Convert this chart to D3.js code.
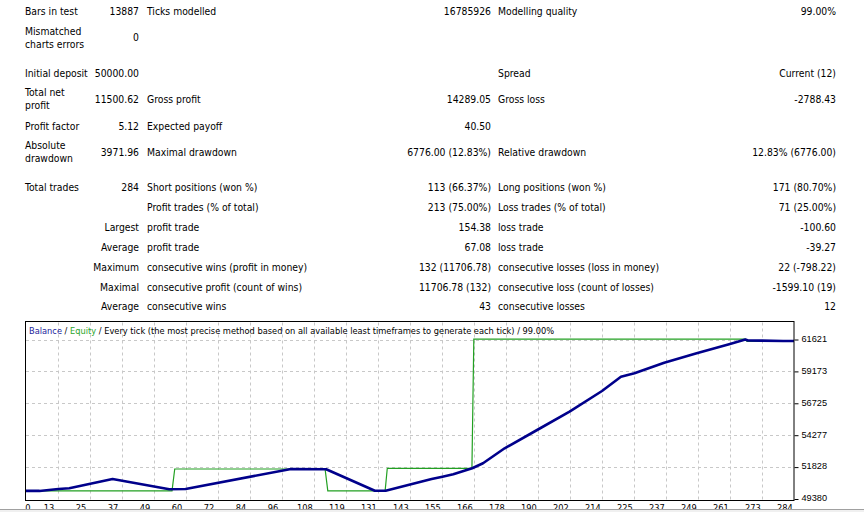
<!DOCTYPE html>
<html><head><meta charset="utf-8">
<script src="https://cdn.jsdelivr.net/npm/d3@7"></script>
<style>
body{margin:0;background:#fff;}
svg{display:block;font-family:Tahoma,"DejaVu Sans Condensed","Liberation Sans",Arial,sans-serif;}
</style>
</head><body><svg id="c" width="864" height="512"></svg>
<script>
// ---------- DATA ----------
const col1Labels = ["Bars in test","Mismatched\ncharts errors","Initial deposit","Total net\nprofit","Profit factor","Absolute\ndrawdown","Total trades","","Largest","Average","Maximum","Maximal","Average"];
const col1Values = ["13887","0","50000.00","11500.62","5.12","3971.96","284","","","","","",""];
const col2Labels = ["Ticks modelled","","","Gross profit","Expected payoff","Maximal drawdown","Short positions (won %)","Profit trades (% of total)","profit trade","profit trade","consecutive wins (profit in money)","consecutive profit (count of wins)","consecutive wins"];
const col2Values = ["16785926","","","14289.05","40.50","6776.00 (12.83%)","113 (66.37%)","213 (75.00%)","154.38","67.08","132 (11706.78)","11706.78 (132)","43"];
const col3Labels = ["Modelling quality","","Spread","Gross loss","","Relative drawdown","Long positions (won %)","Loss trades (% of total)","loss trade","loss trade","consecutive losses (loss in money)","consecutive loss (count of losses)","consecutive losses"];
const col3Values = ["99.00%","","Current (12)","-2788.43","","12.83% (6776.00)","171 (80.70%)","71 (25.00%)","-100.60","-39.27","22 (-798.22)","-1599.10 (19)","12"];

const balanceTrades = [0,5,12,16,32,53,59,98,111,129,133,150,154,158,165,169,177,189,201,213,220,225,236,248,260,266,267,272,280,284];
const balanceValues = [50000,50000,50147,50200,50915,50124,50147,51682,51660,50017,50017,50915,51094,51276,51736,52120,53271,54676,56080,57669,58767,59027,59841,60563,61253,61621,61540,61537,61506,61500.62];

const equityTrades = [0,54,55,110.6,111.6,132.8,133.6,164.9,165.6,266,266.6,284];
const equityValues = [50000,50000,51682,51682,50000,50000,51736,51736,61650,61650,61470,61470];

const xTickLabels = ["0","13","25","37","49","60","72","84","96","108","119","131","143","155","166","178","190","202","214","225","237","249","261","273","284"];
const yTickValues = [49380,51828,54277,56725,59173,61621];

const titleParts = [["Balance","balance"],[" / ","text"],["Equity","equity"],[" / Every tick (the most precise method based on all available least timeframes to generate each tick) / 99.00%","text"]];

// ---------- LAYOUT ----------
const svg = d3.select("#c");
const rowY = [11,37.5,73,99,126,152,187,207,227,247,267,287,306.5];
const subRowRightAligned = i => i >= 8;
const C1L = 25, C1R = 139, C2L = 147, C2R = 491, C3L = 498, C3R = 836;
const fs = 10.3;

const tbl = svg.append("g").attr("font-size", fs).attr("fill", "#000");
function addText(x, y, str, anchor) {
  if (!str) return;
  const lines = str.split("\n");
  const t = tbl.append("text").attr("x", x).attr("text-anchor", anchor);
  lines.forEach((ln, k) => {
    const yy = y + (k - (lines.length - 1) / 2) * 13;
    t.append("tspan").attr("x", x).attr("y", yy).attr("dy", "0.35em").text(ln);
  });
}
rowY.forEach((y, i) => {
  if (subRowRightAligned(i)) addText(C1R, y, col1Labels[i], "end");
  else addText(C1L, y, col1Labels[i], "start");
  addText(C1R, y, col1Values[i], "end");
  addText(C2L, y, col2Labels[i], "start");
  addText(C2R, y, col2Values[i], "end");
  addText(C3L, y, col3Labels[i], "start");
  addText(C3R, y, col3Values[i], "end");
});

// ---------- CHART ----------
const L = 26, R = 794, T = 321.5, B = 500.5;
const x = d3.scaleLinear().domain([0, 284]).range([L, R]);
const y = d3.scaleLinear().domain([49380, 61621]).range([499, 339.5]);
const gridX = d3.scaleLinear().domain([0, 24]).range([L, R]);
const labelX = d3.scalePoint().domain(xTickLabels).range([17, 785]);

const chart = svg.append("g");
chart.append("rect").attr("x", 25.5).attr("y", T).attr("width", R - 25.5).attr("height", B - T)
  .attr("fill", "#fff");

// grid
chart.append("g").selectAll("line").data(d3.range(1, 24)).join("line")
  .attr("x1", d => Math.round(gridX(d)) + 0.5).attr("x2", d => Math.round(gridX(d)) + 0.5)
  .attr("y1", T + 1).attr("y2", B)
  .attr("stroke", "#c8c8c8").attr("stroke-dasharray", "3,3");
chart.append("g").selectAll("line").data(yTickValues.slice(1)).join("line")
  .attr("x1", L).attr("x2", R)
  .attr("y1", d => Math.round(y(d)) + 0.5).attr("y2", d => Math.round(y(d)) + 0.5)
  .attr("stroke", "#c8c8c8").attr("stroke-dasharray", "3,3");

// lines
const eqLine = d3.line().x((d, i) => x(equityTrades[i])).y(d => y(d));
chart.append("path").datum(equityValues).attr("d", eqLine)
  .attr("fill", "none").attr("stroke", "#22a022").attr("stroke-width", 1.2);
const balLine = d3.line().x((d, i) => x(balanceTrades[i])).y(d => y(d));
chart.append("path").datum(balanceValues).attr("d", balLine)
  .attr("fill", "none").attr("stroke", "#00008b").attr("stroke-width", 2.6).attr("stroke-linejoin", "round");

// frame
chart.append("rect").attr("x", 25.5).attr("y", T).attr("width", R - 25.5).attr("height", B - T)
  .attr("fill", "none").attr("stroke", "#000").attr("stroke-width", 1);

// title
const title = chart.append("text").attr("x", 29).attr("y", 330.5).attr("dy", "0.35em").attr("font-size", 9.2);
const tColors = {balance: "#1c1c9c", equity: "#2aa52a", text: "#000"};
titleParts.forEach(p => title.append("tspan").attr("fill", tColors[p[1]]).text(p[0]));

// y axis
const yAxis = d3.axisRight(y).tickValues(yTickValues).tickSize(4).tickPadding(3).tickFormat(d3.format("d"));
const ya = chart.append("g").attr("transform", `translate(${R + 0.5},0)`).call(yAxis);
ya.select(".domain").remove();
ya.selectAll("text").attr("font-size", 9.2).attr("fill", "#000").attr("font-family", null).attr("dy", "0.2em");
ya.selectAll("line").attr("stroke", "#000");

// x labels (clipped by bottom border)
svg.append("clipPath").attr("id", "clipx").append("rect").attr("x", 0).attr("y", 501).attr("width", 864).attr("height", 8);
const xl = svg.append("g").attr("clip-path", "url(#clipx)").attr("font-size", 9.2).attr("fill", "#000");
xl.selectAll("text").data(xTickLabels).join("text")
  .attr("x", (d, i) => i === 0 ? 28 : labelX(d)).attr("y", 511)
  .attr("text-anchor", "middle").text(d => d);

// bottom border line
svg.append("line").attr("x1", 0).attr("x2", 864).attr("y1", 509.5).attr("y2", 509.5).attr("stroke", "#a0a0a0");
svg.append("rect").attr("x", 0).attr("y", 510).attr("width", 864).attr("height", 2).attr("fill", "#f0f0f0");
</script></body></html>
